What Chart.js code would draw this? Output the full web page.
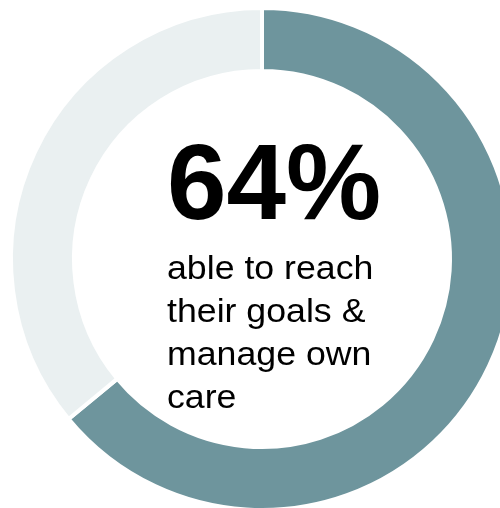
<!DOCTYPE html>
<html>
<head>
<meta charset="utf-8">
<script src="https://cdn.jsdelivr.net/npm/chart.js@4/dist/chart.umd.min.js"></script>
<style>
  html, body { margin: 0; padding: 0; background: #ffffff; overflow: hidden; width: 500px; height: 508px; }
  #wrap { position: absolute; left: 0; top: 0; width: 524px; height: 518px; }
</style>
</head>
<body>
<div id="wrap"><canvas id="c" width="524" height="518"></canvas></div>
<script>
const categories = ["Able to reach goals & manage own care", "Other"];
const values = [64, 36];
const colors = ["#6e959d", "#eaf0f1"];
const headline = "64%";
const captionLines = ["able to reach", "their goals &", "manage own", "care"];

const centerText = {
  id: 'centerText',
  afterDraw(chart) {
    const ctx = chart.ctx;
    ctx.save();
    ctx.fillStyle = '#000000';
    ctx.textAlign = 'left';
    ctx.textBaseline = 'alphabetic';
    ctx.font = 'bold 107px "Liberation Sans", Arial, sans-serif';
    ctx.fillText(headline, 167, 219);
    ctx.font = '34px "Liberation Sans", Arial, sans-serif';
    const sx = 1.05;
    captionLines.forEach((line, i) => {
      ctx.save();
      ctx.translate(167, 279 + i * 43);
      ctx.scale(sx, 1);
      ctx.fillText(line, 0, 0);
      ctx.restore();
    });
    ctx.restore();
  }
};

new Chart(document.getElementById('c'), {
  type: 'doughnut',
  data: {
    labels: categories,
    datasets: [{
      data: values,
      backgroundColor: colors,
      borderColor: '#ffffff',
      borderWidth: 4,
      hoverBorderWidth: 4
    }]
  },
  options: {
    responsive: false,
    animation: false,
    radius: 251,
    cutout: (188 / 251 * 100) + '%',
    layout: { padding: 0 },
    plugins: {
      legend: { display: false },
      tooltip: { enabled: false }
    },
    events: []
  },
  plugins: [centerText]
});
</script>
</body>
</html>
